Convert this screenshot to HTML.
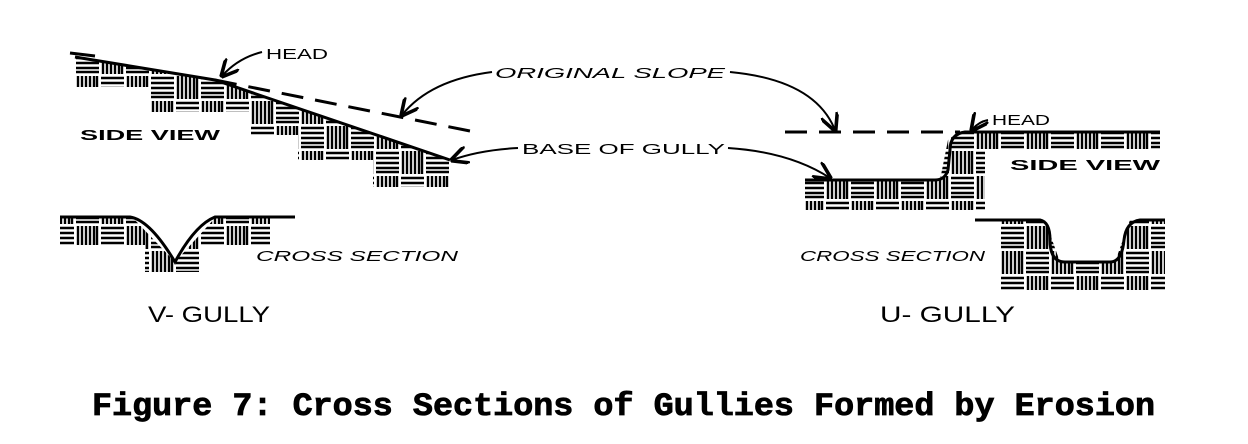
<!DOCTYPE html>
<html><head><meta charset="utf-8"><style>
html,body{margin:0;padding:0;background:#fff;}
svg{display:block;}
.h{font-family:"Liberation Sans",sans-serif;font-size:15px;fill:#000;}
</style></head><body>
<svg width="1248" height="444" viewBox="0 0 1248 444" xmlns="http://www.w3.org/2000/svg">
<defs>
<pattern id="hv" width="50" height="50" patternUnits="userSpaceOnUse">
 <rect width="50" height="50" fill="#fff"/>
 <g stroke="#000" stroke-width="2.4">
  <path d="M3 1V24M7 1V24M11 1V24M15 1V24M19 1V24M22 1V24"/>
  <path d="M26 3H49M26 8H49M26 13H49M26 18H49M26 22H49"/>
  <path d="M1 28H24M1 33H24M1 38H24M1 43H24M1 47H24"/>
  <path d="M28 26V49M32 26V49M36 26V49M40 26V49M44 26V49M47 26V49"/>
 </g>
</pattern>
<marker id="ar" viewBox="0 0 10 10" refX="9" refY="5" markerWidth="9" markerHeight="9" orient="auto"><path d="M0 0L10 5L0 10" fill="none" stroke="#000" stroke-width="2"/></marker>
</defs>

<!-- left side view -->
<polygon points="75,57 215,80 450,160 450,187 373,187 373,160 298,160 298,135 250,135 250,112 150,112 150,87 75,87" fill="url(#hv)"/>
<path d="M70,53 L95,56" stroke="#000" stroke-width="3"/>
<path d="M75,57 L215,80 L450,160" stroke="#000" stroke-width="3" fill="none"/>
<path d="M215,80 L480,133" stroke="#000" stroke-width="3" stroke-dasharray="22,12" fill="none"/>

<!-- V cross section -->
<polygon points="60,218 133,218 175,262 215,218 270,218 270,245 200,245 200,272 145,272 145,245 60,245" fill="url(#hv)"/>
<path d="M60,217 L130,217 Q150,220 175,262 Q195,225 215,217 L295,217" stroke="#000" stroke-width="3" fill="none"/>

<!-- right side view -->
<path d="M785,132 L960,132" stroke="#000" stroke-width="3" stroke-dasharray="22,12"/>
<polygon points="958,132 1160,132 1160,150 985,150 985,210 805,210 805,180 940,180 948,140" fill="url(#hv)"/>
<path d="M1160,132 L965,132 Q950,134 950,150 L948,170 Q945,180 935,180 L805,180" stroke="#000" stroke-width="3" fill="none"/>

<!-- U cross section -->
<polygon points="975,220 1045,220 1060,262 1115,262 1130,220 1165,220 1165,290 1000,290 1000,220" fill="url(#hv)"/>
<path d="M975,220 L1040,220 Q1050,222 1050,240 Q1050,262 1065,262 L1110,262 Q1122,262 1124,240 Q1126,222 1140,220 L1165,220" stroke="#000" stroke-width="3" fill="none"/>

<!-- arrows -->
<g stroke="#000" stroke-width="2" fill="none" marker-end="url(#ar)">
<path d="M262,52 Q238,58 222,76"/>
<path d="M492,72 Q430,80 402,115"/>
<path d="M730,72 Q815,80 835,130"/>
<path d="M518,148 Q480,150 452,160"/>
<path d="M728,148 Q790,152 830,178"/>
<path d="M988,120 Q978,122 972,130"/>
</g>

<!-- labels -->
<text class="h" x="266" y="59" textLength="62" lengthAdjust="spacingAndGlyphs">HEAD</text>
<text class="h" x="495" y="78" textLength="230" lengthAdjust="spacingAndGlyphs" font-style="italic">ORIGINAL SLOPE</text>
<text class="h" x="522" y="154" textLength="203" lengthAdjust="spacingAndGlyphs">BASE OF GULLY</text>
<text class="h" x="80" y="140" textLength="140" lengthAdjust="spacingAndGlyphs" font-weight="bold">SIDE VIEW</text>
<text class="h" x="256" y="261" textLength="202" lengthAdjust="spacingAndGlyphs" font-style="italic">CROSS SECTION</text>
<text class="h" x="992" y="125" textLength="58" lengthAdjust="spacingAndGlyphs">HEAD</text>
<text class="h" x="1010" y="170" textLength="150" lengthAdjust="spacingAndGlyphs" font-weight="bold">SIDE VIEW</text>
<text class="h" x="800" y="261" textLength="185" lengthAdjust="spacingAndGlyphs" font-style="italic">CROSS SECTION</text>
<text class="h" x="148" y="322" style="font-size:22px" textLength="122" lengthAdjust="spacingAndGlyphs">V- GULLY</text>
<text class="h" x="880" y="322" style="font-size:22px" textLength="135" lengthAdjust="spacingAndGlyphs">U- GULLY</text>

<text x="92" y="415" font-family="Liberation Mono, monospace" font-weight="bold" font-size="32" stroke="#000" stroke-width="0.8" textLength="1063" lengthAdjust="spacingAndGlyphs">Figure 7: Cross Sections of Gullies Formed by Erosion</text>
</svg>
</body></html>
